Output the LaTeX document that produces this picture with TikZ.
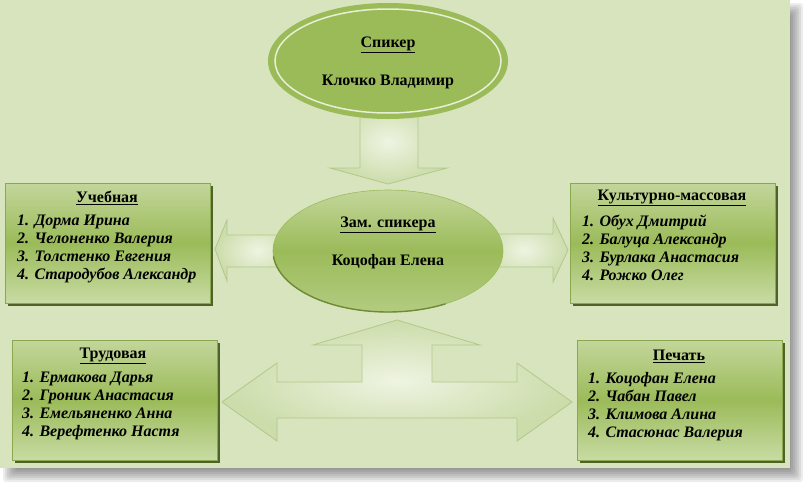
\documentclass[tikz,border=0pt]{standalone}
\usepackage{fontspec}
\setmainfont{Liberation Serif}
\usetikzlibrary{shapes.geometric,shadows}
\definecolor{bg}{HTML}{D7E4BD}
\definecolor{olive}{HTML}{9BBB59}
\definecolor{olivedk}{HTML}{6E8B34}
\definecolor{boxsh}{HTML}{4F6228}
\definecolor{boxtop}{HTML}{C3D69B}
\definecolor{boxbot}{HTML}{C8DBA4}
\definecolor{arrlight}{HTML}{EEF4E2}
\definecolor{arrdark}{HTML}{CCDCAA}
\definecolor{arredge}{HTML}{B2C88A}
\tikzset{
  box/.style={rectangle, draw=olive!90!black, line width=0.6pt,
    top color=boxtop, bottom color=boxbot, middle color=olive,
    minimum width=205pt, minimum height=120pt, inner sep=0pt,
    drop shadow={shadow xshift=3pt, shadow yshift=-3pt, fill=boxsh, opacity=1}},
  ttl/.style={font=\fontsize{16}{18}\selectfont\bfseries, inner sep=0pt},
  items/.style={font=\fontsize{16}{18}\selectfont\bfseries\itshape, align=left, inner sep=0pt, anchor=north west},
  arr/.style={draw=arredge, line width=0.8pt, inner color=arrlight, outer color=arrdark},
  etext/.style={font=\fontsize{16}{18}\selectfont\bfseries, inner sep=0pt}
}
\begin{document}
\begin{tikzpicture}[x=1pt,y=-1pt]
\useasboundingbox (0,0) rectangle (807,485);
% frame shadow
\foreach \d in {-6,-4,...,6}
  \fill[black, opacity=0.07, rounded corners=3pt] (9+\d,9+\d) rectangle (797-\d,476-\d);
\fill[bg] (0,0) rectangle (790,468);

% arrows (behind ellipses)
\shade[arr] (360,100) -- (418,100) -- (418,168) -- (447,168) -- (388,184) -- (330,168) -- (360,168) -- cycle;
\shade[arr] (300,235) -- (227,235) -- (227,220) -- (215,249) -- (227,281) -- (227,267) -- (300,267) -- cycle;
\shade[arr] (480,234) -- (553,234) -- (553,218) -- (568,250) -- (553,282) -- (553,267) -- (480,267) -- cycle;
\shade[arr] (397,320) -- (480,345) -- (432,345) -- (432,382) -- (517,382) -- (517,363) -- (572,402)
  -- (517,441) -- (517,418) -- (277,418) -- (277,441) -- (222,402) -- (277,363) -- (277,382)
  -- (362,382) -- (362,345) -- (313,345) -- cycle;

% top ellipse
\node[ellipse, fill=olive, minimum width=240pt, minimum height=116pt, inner sep=0pt] (spk) at (388,61) {};
\draw[bg!60!white, line width=1.5pt] (spk.center) ellipse [x radius=113, y radius=52];
\node[etext] (spkt) at (388,45) {\underline{Спикер}};
\node[etext] (spkn) at (388,82) {Клочко Владимир};

% middle ellipse
\node[ellipse, top color=boxtop, bottom color=boxtop!60!olive, middle color=olive, draw=olive, line width=0.6pt,
  minimum width=230pt, minimum height=122pt, inner sep=0pt] (zam) at (388,251) {};
\draw[olivedk, line width=1.4pt] ([shift={(-60:115pt and 61pt)}]zam.center) arc [start angle=-60, end angle=-175, x radius=115pt, y radius=61pt];
\node[etext] (zamt) at (388,225) {\underline{Зам. спикера}};
\node[etext] (zamn) at (388,262) {Коцофан Елена};

% boxes
\node[box] (ub) at (107.5,243) {};
\node[ttl] (ubt) at (107,198) {\underline{Учебная}};
\node[items] (ubl) at (17,215) {1. Дорма Ирина\\2. Челоненко Валерия\\3. Толстенко Евгения\\4. Стародубов Александр};

\node[box] (km) at (672.5,243) {};
\node[ttl] (kmt) at (672,198) {\underline{Культурно-массовая}};
\node[items] (kml) at (582,215) {1. Обух Дмитрий\\2. Балуца Александр\\3. Бурлака Анастасия\\4. Рожко Олег};

\node[box] (tr) at (114.5,400) {};
\node[ttl] (trt) at (113,356) {\underline{Трудовая}};
\node[items] (trl) at (22,372) {1. Ермакова Дарья\\2. Гроник Анастасия\\3. Емельяненко Анна\\4. Верефтенко Настя};

\node[box] (pe) at (679.5,400) {};
\node[ttl] (pet) at (679,356) {\underline{Печать}};
\node[items] (pel) at (588,372) {1. Коцофан Елена\\2. Чабан Павел\\3. Климова Алина\\4. Стасюнас Валерия};
\end{tikzpicture}
\end{document}
